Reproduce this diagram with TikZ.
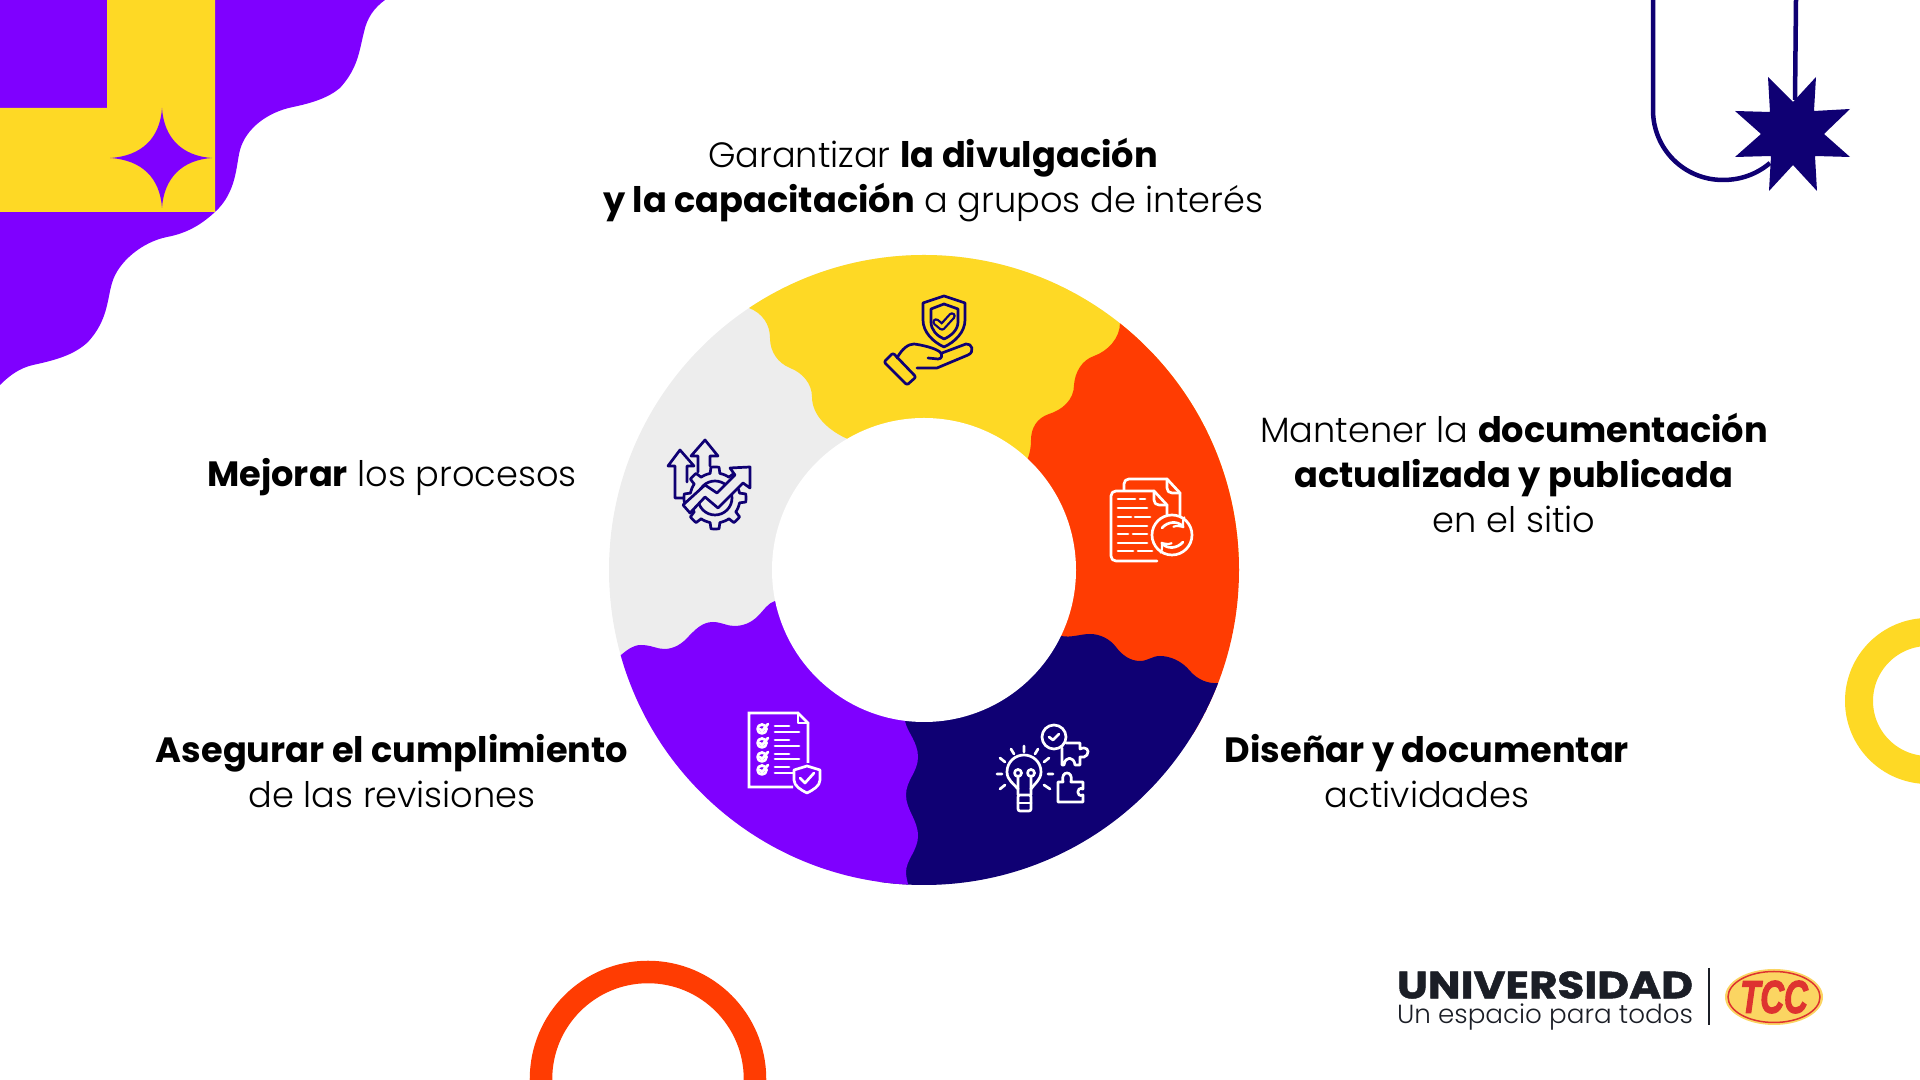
\documentclass[tikz,border=0pt]{standalone}
\usepackage{xcolor}
\usepackage{fontspec}
\setmainfont{Poppins}[UprightFont=* Light,BoldFont=* Bold]
\newfontfamily\heavyfont[BoldFeatures={FakeBold=1.2}]{Poppins}
\newfontfamily\logofont[FakeBold=3]{Liberation Sans Bold Italic}
\definecolor{amarillo}{HTML}{FED925}
\definecolor{morado}{HTML}{7F00FF}
\definecolor{naranja}{HTML}{FF3C02}
\definecolor{azul}{HTML}{0F0073}
\definecolor{gris}{HTML}{EDEDED}
\definecolor{tinta}{HTML}{1B1E26}
\definecolor{rojologo}{HTML}{DE3330}
\definecolor{oro}{HTML}{FBD562}
\tikzset{
	texto/.style={align=center, inner sep=0pt, font=\fontsize{10}{12.75}\selectfont, text=black},
	icono/.style={line width=0.027cm, line cap=round, line join=round},
}
\begin{document}
\begin{tikzpicture}[x=0.01cm, y=-0.01cm, declare function={radiorueda(\t)=(mod(\t,45)<20)?31:25;}]
	\useasboundingbox (0,0) rectangle (1920,1080);
	\clip (0,0) rectangle (1920,1080);
	% Esquina superior izquierda
	\fill[morado] (385,0) .. controls (374,8) and (367,18) .. (364,32) .. controls (359,52) and (358,68) .. (340,88)
	.. controls (328,98) and (312,103) .. (293,107) .. controls (268,112) and (246,128) .. (240,150)
	.. controls (236,165) and (237,192) .. (215,212) .. controls (202,224) and (188,233) .. (167,237)
	.. controls (142,242) and (118,262) .. (112,283) .. controls (107,300) and (108,320) .. (88,342)
	.. controls (74,355) and (56,360) .. (33,365) .. controls (20,368) and (10,375) .. (0,385) -- (0,0) -- cycle;
	\fill[amarillo] (107,0) -- (215,0) -- (215,212) -- (0,212) -- (0,108) -- (107,108) -- cycle;
	\fill[morado] (162,108) .. controls (164,138) and (182,156) .. (212,158) .. controls (182,160) and (164,178) .. (162,208)
	.. controls (160,178) and (142,160) .. (110,158) .. controls (142,156) and (160,138) .. (162,108) -- cycle;
	% Esquina superior derecha
	\draw[azul, line width=0.045cm] (1653,0) -- (1653,110) .. controls (1653,149) and (1684,180) .. (1723,180)
	.. controls (1741,180) and (1757,174) .. (1770,163);
	\draw[azul, line width=0.045cm] (1796,0) -- (1795,100);
	\fill[azul] (1768,77) -- (1793,102) -- (1816,77) -- (1814,111) -- (1850,109) -- (1824,134) -- (1850,157) -- (1815,156)
	-- (1817,191) -- (1793,165) -- (1769,191) -- (1771,156) -- (1735,157) -- (1761,134) -- (1735,111) -- (1770,112) -- cycle;
	% Anillos de los bordes
	\draw[amarillo, line width=0.28cm] (1928,701) circle (69);
	\draw[naranja, line width=0.225cm] (648,1079) circle (107);
	% Sectores del anillo central
	\coordinate (centro) at (924,570);
	\begin{scope}
		\clip (centro) circle (315);
		\fill[gris] (centro) circle (315);
		\fill[amarillo] (749,308) .. controls (762,313) and (770,324) .. (770,338) .. controls (770,352) and (778,363) .. (790,368)
		.. controls (803,373) and (812,384) .. (812,397) .. controls (812,415) and (828,431) .. (850,440)
		-- (centro) -- (1300,570) -- (1300,200) -- (749,200) -- cycle;
		\fill[naranja] (1120,323) .. controls (1120,338) and (1108,351) .. (1094,356) .. controls (1082,360) and (1075,372) .. (1074,385)
		.. controls (1074,400) and (1062,410) .. (1049,414) .. controls (1037,418) and (1031,428) .. (1031,440)
		.. controls (1031,447) and (1030,452) .. (1028,458) -- (centro) -- (1300,800) -- (1300,200) -- (1120,200) -- cycle;
		\fill[azul] (1219,683) .. controls (1208,684) and (1198,680) .. (1190,671) .. controls (1182,661) and (1170,656) .. (1160,656)
		.. controls (1152,656) and (1148,661) .. (1140,661) .. controls (1130,661) and (1122,655) .. (1116,647)
		.. controls (1110,639) and (1100,634) .. (1090,634) .. controls (1080,634) and (1072,638) .. (1061,636)
		-- (centro) -- (880,720) -- (880,950) -- (1300,950) -- (1300,683) -- cycle;
		\fill[morado] (621,655) .. controls (627,650) and (633,645) .. (641,645) .. controls (651,645) and (657,649) .. (664,649)
		.. controls (674,649) and (682,644) .. (689,636) .. controls (695,630) and (702,622) .. (713,622)
		.. controls (721,622) and (727,626) .. (734,626) .. controls (743,626) and (751,623) .. (758,616)
		.. controls (764,610) and (768,603) .. (775,601) -- (centro) -- (905,721)
		.. controls (907,732) and (918,742) .. (918,757) .. controls (918,772) and (906,780) .. (906,795)
		.. controls (906,810) and (918,820) .. (918,836) .. controls (918,850) and (906,860) .. (906,872)
		.. controls (906,876) and (907,880) .. (908,884) -- (908,950) -- (560,950) -- (560,655) -- cycle;
	\end{scope}
	\fill[white] (centro) circle (152);
	% Icono de la mano con el escudo
	\begin{scope}[icono, azul]
		\draw (944,296) -- (965,303) -- (965,320) .. controls (965,332) and (955,342) .. (944,347) .. controls (933,342) and (923,332) .. (923,320) -- (923,303) -- cycle;
		\draw (944,304) -- (958,309) -- (958,322) .. controls (958,330) and (951,336) .. (944,339) .. controls (937,336) and (931,330) .. (931,322) -- (931,309) -- cycle;
		\draw[line width=0.075cm] (936,322) -- (942,327) -- (952,316);
		\draw[line width=0.03cm, amarillo] (936,322) -- (942,327) -- (952,316);
		\draw[rounded corners=0.02cm] (884,362) -- (893,353) -- (916,377) -- (907,385) -- cycle;
		\draw (897,358) .. controls (902,349) and (908,344) .. (914,344) .. controls (922,345) and (935,348) .. (940,352) .. controls (943,355) and (942,359) .. (938,359) -- (928,358);
		\draw (942,353) -- (966,344) .. controls (972,343) and (975,352) .. (968,355) -- (937,368) -- (917,368);
	\end{scope}
	% Icono de los documentos
	\begin{scope}[icono, white]
		\draw (1124,490) -- (1124,484) .. controls (1124,481) and (1126,479) .. (1129,479) -- (1167,479) -- (1180,493) -- (1180,517);
		\draw (1167,479) -- (1167,488) .. controls (1167,491) and (1169,493) .. (1172,493) -- (1180,493);
		\draw (1167,517) -- (1167,505) -- (1154,491) -- (1116,491) .. controls (1113,491) and (1111,493) .. (1111,496) -- (1111,556) .. controls (1111,559) and (1113,561) .. (1116,561) -- (1157,561);
		\draw (1154,491) -- (1154,500) .. controls (1154,503) and (1156,505) .. (1159,505) -- (1167,505);
		\draw (1118,499) -- (1135,499) (1140,499) -- (1145,499) (1118,508) -- (1147,508) (1118,517) -- (1131,517) (1135,517) -- (1150,517);
		\draw (1118,526) -- (1147,526) (1118,534) -- (1128,534) (1133,534) -- (1147,534) (1118,543) -- (1147,543) (1118,551) -- (1133,551) (1138,551) -- (1152,551);
		\fill[naranja] (1172,535) circle (20);
		\draw (1172,535) circle (20);
		\draw[->] (1162,528) .. controls (1168,521) and (1178,521) .. (1184,528);
		\draw[->] (1183,542) .. controls (1177,549) and (1167,549) .. (1161,542);
	\end{scope}
	% Icono de la rueda con flechas
	\begin{scope}[icono, azul]
		\draw (687,482) -- (687,466) -- (694,466) -- (680,450) -- (668,466) -- (675,466) -- (675,498) -- (684,498);
		\draw (710,466) -- (710,456) -- (718,456) -- (705,440) -- (691,456) -- (698,456) -- (698,472);
		\draw[fill=gris] plot[domain=0:360, samples=97] ({715+radiorueda(\x+10)*cos(\x)}, {498+radiorueda(\x+10)*sin(\x)}) -- cycle;
		\draw (715,498) circle (17);
		\draw[fill=gris] (683,505) -- (705,485) -- (717,493) -- (735,475) -- (730,468) -- (750,467) -- (750,488) -- (743,483) -- (718,508) -- (705,497) -- (690,513) -- cycle;
	\end{scope}
	% Icono de la lista
	\begin{scope}[icono, white]
		\draw[line cap=butt, line join=miter] (808,763) -- (808,723) -- (798,713) -- (749,713) -- (749,787) -- (793,787);
		\draw (798,713) -- (798,723) -- (808,723);
		\foreach \fila in {729,743,757,770} {
			\draw (762,\fila) circle (4.5);
			\draw (760,\fila) -- (762,\fila+2) -- (768,\fila-5);
		}
		\draw (775,726) -- (789,726) (775,732) -- (799,732) (775,740) -- (789,740) (775,746) -- (799,746);
		\draw (775,754) -- (789,754) (775,759) -- (799,759) (775,767) -- (789,767) (775,773) -- (793,773);
		\draw[fill=morado] (807,766) -- (820,770) -- (820,780) .. controls (820,786) and (813,790) .. (807,793) .. controls (801,790) and (794,786) .. (794,780) -- (794,770) -- cycle;
		\draw (800,778) -- (805,783) -- (814,773);
	\end{scope}
	% Icono de la bombilla y las piezas
	\begin{scope}[icono, white]
		\draw (1018,795) -- (1018,789) .. controls (1014,784) and (1007,780) .. (1007,772) .. controls (1007,762) and (1015,755) .. (1024,755) .. controls (1033,755) and (1041,762) .. (1041,772) .. controls (1041,780) and (1034,784) .. (1031,789) -- (1031,795);
		\draw[rounded corners=0.02cm] (1018,795) -- (1031,795) -- (1031,811) -- (1018,811) -- cycle;
		\draw (1018,803) -- (1031,803);
		\draw (1018,789) -- (1018,776) (1031,789) -- (1031,776) (1018,773) circle (3.5) (1031,773) circle (3.5);
		\draw (1024,746) -- (1024,752) (1011,749) -- (1014,754) (1038,749) -- (1035,754) (1000,758) -- (1005,762) (1049,758) -- (1044,762);
		\draw (997,774) -- (1002,774) (1048,774) -- (1053,774) (1000,789) -- (1005,785) (1050,789) -- (1044,785);
		\draw (1054,737) circle (12);
		\draw (1049,737) -- (1053,740) -- (1059,734);
		\draw (1066,743) -- (1080,743) -- (1080,749) .. controls (1086,746) and (1090,750) .. (1087,755) .. controls (1085,757) and (1083,758) .. (1080,757) -- (1080,765) -- (1075,765) .. controls (1074,756) and (1065,756) .. (1064,765) -- (1062,765) -- (1062,748);
		\draw (1058,782) -- (1063,782) .. controls (1060,770) and (1074,770) .. (1071,782) -- (1083,782) -- (1083,789) .. controls (1076,786) and (1076,798) .. (1083,795) -- (1083,802) -- (1058,802) -- cycle;
	\end{scope}
	% Textos
	\node[texto] (divulgacion) at (933,180) {Garantizar \textbf{la divulgación}\\\textbf{y la capacitación} a grupos de interés};
	\node[texto] (documentacion) at (1514,473) {Mantener la \textbf{documentación}\\\textbf{actualizada y publicada}\\en el sitio};
	\node[texto] (disenar) at (1427,771) {\textbf{Diseñar y documentar}\\actividades};
	\node[texto] (asegurar) at (392,771) {\textbf{Asegurar el cumplimiento}\\de las revisiones};
	\node[texto] (mejorar) at (392,477) {\textbf{Mejorar} los procesos};
	% Logotipo
	\node[inner sep=0pt, text=tinta, font=\heavyfont\bfseries\fontsize{10.8}{11}\selectfont, xscale=1.15, transform shape] (universidad) at (1545,985) {UNIVERSIDAD};
	\node[inner sep=0pt, text=tinta, font=\fontsize{7.45}{8}\selectfont] (lema) at (1545,1017) {Un espacio para todos};
	\draw[tinta, line width=0.025cm] (1709,968) -- (1709,1025);
	\fill[oro] (1774,997) ellipse (49 and 28);
	\draw[rojologo, line width=0.015cm] (1774,997) ellipse (46 and 25.5);
	\node[inner sep=0pt, text=rojologo, font=\logofont\fontsize{13}{13}\selectfont, xscale=0.72, transform shape] (tcc) at (1774,997) {TCC};
\end{tikzpicture}
\end{document}
